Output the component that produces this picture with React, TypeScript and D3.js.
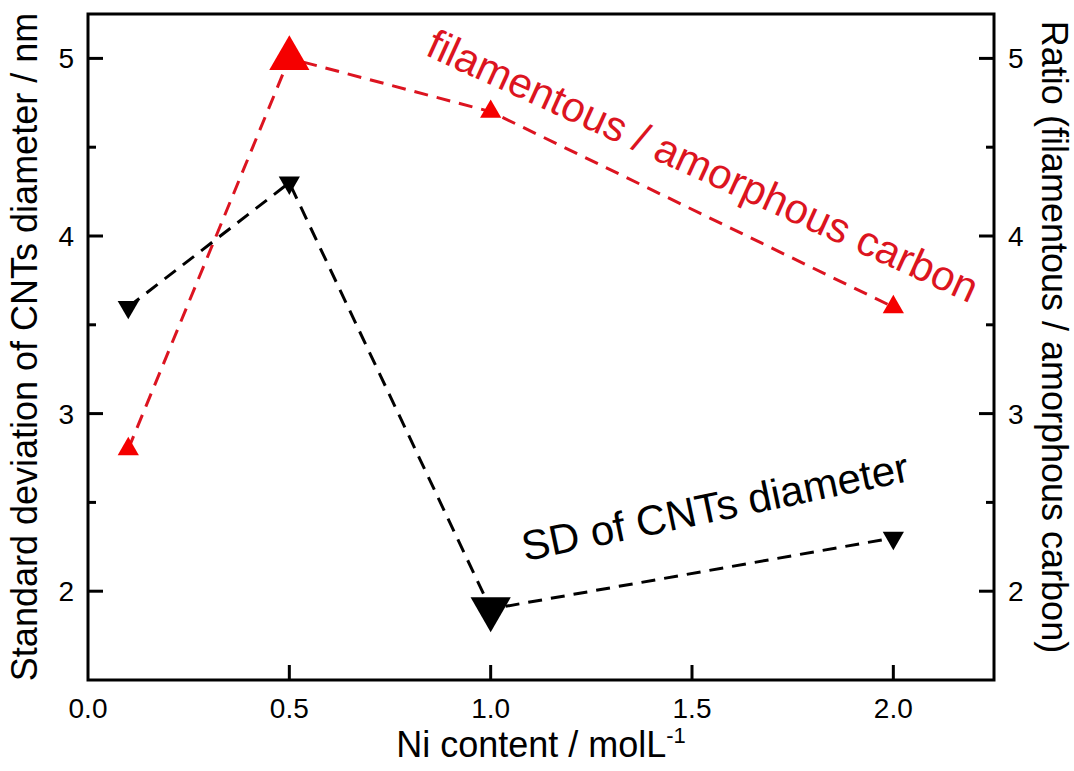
import React from "react";
import * as d3 from "d3";

const niContent = [0.1, 0.5, 1.0, 2.0];
const sdDiameter = [3.6, 4.3, 1.9, 2.3];
const sdBig = [false, false, true, false];
const ratioFilAmor = [2.8, 5.0, 4.7, 3.6];
const ratioBig = [false, true, false, false];
const xTicks = [0.0, 0.5, 1.0, 1.5, 2.0];
const yTicks = [2, 3, 4, 5];
const yMinorTicks = [2.5, 3.5, 4.5];

const W = 1074;
const H = 771;
const L = 88, R = 994, T = 14, B = 680;
const FONT = "'Liberation Sans', Arial, Helvetica, sans-serif";
const RED_LINE = "#dc1420";
const RED_MARK = "#f50000";

export default function App() {
  const x = d3.scaleLinear().domain([0, 2.25]).range([L, R]);
  const y = d3.scaleLinear().domain([1.5, 5.25]).range([B, T]);

  const sdPts = niContent.map((v, i) => [v, sdDiameter[i]] as [number, number]);
  const rPts = niContent.map((v, i) => [v, ratioFilAmor[i]] as [number, number]);
  const line = d3.line<[number, number]>().x((d) => x(d[0])).y((d) => y(d[1]));

  const smallSize = 195;
  const bigSize = 700;
  const tri = (s: number) => d3.symbol().type(d3.symbolTriangle).size(s)() as string;

  return (
    <svg width={W} height={H} style={{ position: "absolute", left: 0, top: 0, background: "#fff" }} fontFamily={FONT}>
      <rect x={0} y={0} width={W} height={H} fill="#fff" />
      {/* lines */}
      <path d={line(rPts) || ""} fill="none" stroke={RED_LINE} strokeWidth={3} strokeDasharray="14,9" />
      <path d={line(sdPts) || ""} fill="none" stroke="#000" strokeWidth={3} strokeDasharray="14,9" />
      {/* markers */}
      {rPts.map((d, i) => (
        <path key={"r" + i} d={tri(ratioBig[i] ? bigSize : smallSize)} transform={`translate(${x(d[0])},${y(d[1])})`} fill={RED_MARK} />
      ))}
      {sdPts.map((d, i) => (
        <path key={"s" + i} d={tri(sdBig[i] ? bigSize : smallSize)} transform={`translate(${x(d[0])},${y(d[1])}) rotate(180)`} fill="#000" />
      ))}
      {/* frame */}
      <rect x={L} y={T} width={R - L} height={B - T} fill="none" stroke="#000" strokeWidth={3} />
      {/* x ticks */}
      {xTicks.map((t) => (
        <g key={"xt" + t}>
          {t > 0 && <line x1={x(t)} x2={x(t)} y1={B} y2={B - 15} stroke="#000" strokeWidth={3} />}
          <text x={x(t)} y={718} textAnchor="middle" fontSize={28}>{t.toFixed(1)}</text>
        </g>
      ))}
      {/* y ticks */}
      {yTicks.map((t) => (
        <g key={"yt" + t}>
          <line x1={L} x2={L + 15} y1={y(t)} y2={y(t)} stroke="#000" strokeWidth={3} />
          <line x1={R} x2={R - 15} y1={y(t)} y2={y(t)} stroke="#000" strokeWidth={3} />
          <text x={74} y={y(t) + 10} textAnchor="end" fontSize={28}>{t}</text>
          <text x={1008} y={y(t) + 10} textAnchor="start" fontSize={28}>{t}</text>
        </g>
      ))}
      {yMinorTicks.map((t) => (
        <g key={"ym" + t}>
          <line x1={L} x2={L + 8} y1={y(t)} y2={y(t)} stroke="#000" strokeWidth={3} />
          <line x1={R} x2={R - 8} y1={y(t)} y2={y(t)} stroke="#000" strokeWidth={3} />
        </g>
      ))}
      {/* axis titles */}
      <text transform={`translate(37,347) rotate(-90)`} textAnchor="middle" fontSize={36}>
        Standard deviation of CNTs diameter / nm
      </text>
      <text transform={`translate(1042,337) rotate(90)`} textAnchor="middle" fontSize={36}>
        Ratio (filamentous / amorphous carbon)
      </text>
      <text x={541} y={757} textAnchor="middle" fontSize={36}>
        Ni content / molL<tspan dy={-14} fontSize={22}>-1</tspan>
      </text>
      {/* annotations */}
      <text transform={`translate(697,179) rotate(24.5)`} textAnchor="middle" fontSize={42} fill={RED_LINE}>
        filamentous / amorphous carbon
      </text>
      <text transform={`translate(718,521) rotate(-11.8)`} textAnchor="middle" fontSize={42} fill="#000">
        SD of CNTs diameter
      </text>
    </svg>
  );
}
